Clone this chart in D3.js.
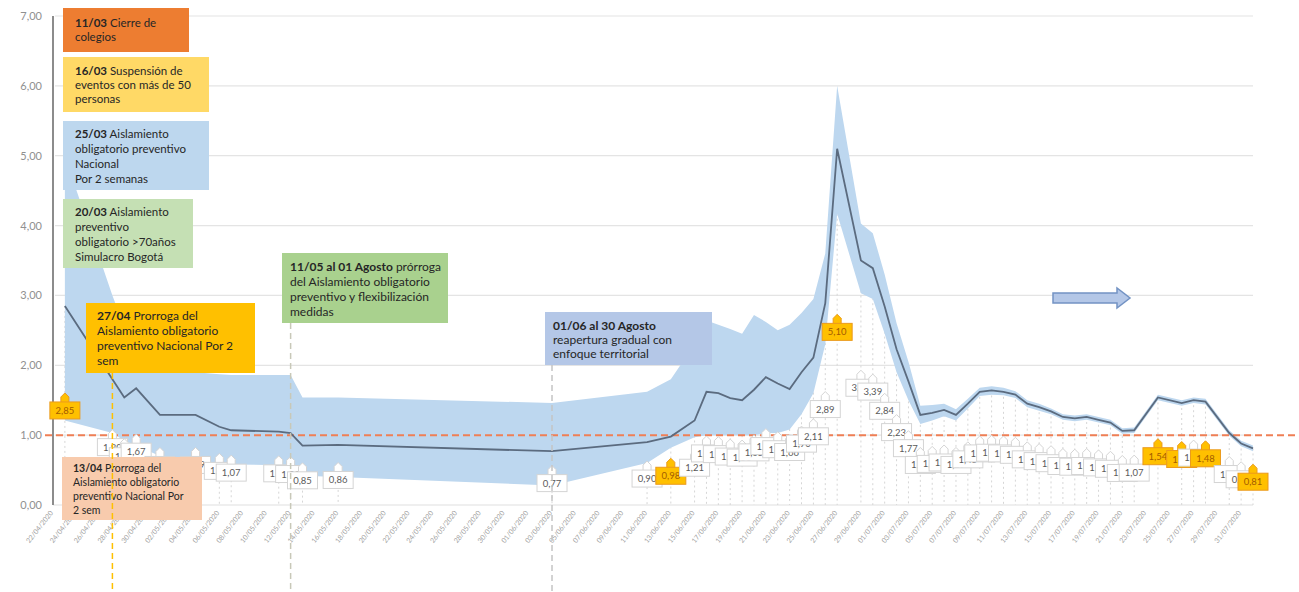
<!DOCTYPE html>
<html><head><meta charset="utf-8">
<script src="https://cdn.jsdelivr.net/npm/d3@7"></script>
<style>
body{margin:0;background:#fff}
svg{display:block}
text{font-family:Lato,"Open Sans","Liberation Sans",sans-serif}
</style>
</head><body>
<svg id="c" width="1299" height="592"></svg>
<script>
// ---------------- DATA ----------------
const dates = ["23/04/2020","27/04/2020","28/04/2020","29/04/2020","01/05/2020","04/05/2020","06/05/2020","07/05/2020",
"11/05/2020","12/05/2020","13/05/2020","16/05/2020","03/06/2020","11/06/2020","13/06/2020","15/06/2020",
"16/06/2020","17/06/2020","18/06/2020","19/06/2020","20/06/2020","21/06/2020","22/06/2020","23/06/2020",
"24/06/2020","25/06/2020","26/06/2020","27/06/2020","29/06/2020","30/06/2020","01/07/2020","02/07/2020",
"03/07/2020","04/07/2020","05/07/2020","06/07/2020","07/07/2020","08/07/2020","09/07/2020","10/07/2020",
"11/07/2020","12/07/2020","13/07/2020","14/07/2020","15/07/2020","16/07/2020","17/07/2020","18/07/2020",
"19/07/2020","20/07/2020","21/07/2020","22/07/2020","24/07/2020","26/07/2020","27/07/2020",
"28/07/2020","30/07/2020","31/07/2020","01/08/2020"];
const rt = [2.85,1.80,1.54,1.67,1.29,1.29,1.12,1.07,
1.05,1.03,0.85,0.86,0.77,0.90,0.98,1.21,
1.62,1.60,1.53,1.50,1.65,1.83,1.74,1.66,
1.90,2.11,2.89,5.10,3.50,3.39,2.84,2.23,
1.77,1.29,1.32,1.36,1.29,1.45,1.62,1.64,
1.62,1.58,1.45,1.40,1.34,1.26,1.24,1.26,
1.22,1.18,1.06,1.07,1.54,1.46,1.50,
1.48,1.03,0.88,0.81];
const lower = [1.21,1.03,0.92,0.85,0.70,0.62,0.59,0.58,
0.57,0.55,0.42,0.40,0.28,0.60,0.82,0.97,
1.00,1.00,1.00,1.00,1.00,1.03,1.03,1.08,
1.30,1.60,2.30,4.17,3.03,2.95,2.45,1.90,
1.50,1.16,1.21,1.27,1.21,1.38,1.56,1.58,
1.57,1.53,1.40,1.35,1.30,1.22,1.20,1.22,
1.18,1.14,1.02,1.03,1.50,1.42,1.46,
1.44,0.99,0.84,0.77];
const upper = [4.99,3.00,2.55,2.20,1.98,1.90,1.87,1.86,
1.86,1.86,1.54,1.54,1.46,1.62,1.80,2.30,
2.64,2.58,2.52,2.45,2.72,2.62,2.50,2.58,
2.75,2.95,3.60,6.00,4.03,3.89,3.30,2.60,
2.05,1.42,1.43,1.45,1.37,1.52,1.68,1.70,
1.68,1.63,1.50,1.45,1.38,1.30,1.28,1.30,
1.26,1.22,1.10,1.11,1.58,1.50,1.54,
1.52,1.07,0.92,0.85];
const highlighted = ["23/04/2020","13/06/2020","27/06/2020","24/07/2020","26/07/2020","28/07/2020","01/08/2020"];
const yTicks = [0,1,2,3,4,5,6,7];
const xAxisFirst = "22/04/2020";
const xAxisLast = "31/07/2020";
const xTickStepDays = 2;
const threshold = 1;
const eventDates = ["27/04/2020","12/05/2020","03/06/2020"];
const notes = [
  [["11/03"," Cierre de"],["","colegios"]],
  [["16/03"," Suspensión de"],["","eventos con más de 50"],["","personas"]],
  [["25/03"," Aislamiento"],["","obligatorio preventivo"],["","Nacional"],["","Por 2 semanas"]],
  [["20/03"," Aislamiento"],["","preventivo"],["","obligatorio  >70años"],["","Simulacro Bogotá"]],
  [["27/04"," Prorroga del"],["","Aislamiento obligatorio"],["","preventivo Nacional Por 2"],["","sem"]],
  [["13/04"," Prorroga del"],["","Aislamiento obligatorio"],["","preventivo  Nacional  Por"],["","2 sem"]],
  [["11/05 al 01 Agosto"," prórroga"],["","del Aislamiento obligatorio"],["","preventivo y flexibilización"],["","medidas"]],
  [["01/06 al 30 Agosto",""],["","reapertura gradual con"],["","enfoque territorial"]]
];

// ---------------- LAYOUT ----------------
const svg = d3.select("#c");
const parse = d3.timeParse("%d/%m/%Y");
const fmtTick = d3.timeFormat("%d/%m/%Y");
const D0 = parse(xAxisFirst), D1 = parse(xAxisLast);
const x = d3.scaleTime().domain([D0, d3.timeDay.offset(D1, 1)]).range([53, 1253]);
const y = d3.scaleLinear().domain([0, 7]).range([505, 16]);
const pts = dates.map((d, i) => ({date: parse(d), key: d, v: rt[i], lo: lower[i], hi: upper[i]}));
const xRight = x(pts[pts.length - 1].date);
const comma = v => d3.format(".2f")(v).replace(".", ",");

// gridlines
svg.append("g").selectAll("line").data(yTicks.slice(1)).join("line")
  .attr("x1", 55).attr("x2", xRight).attr("y1", d => y(d)).attr("y2", d => y(d))
  .attr("stroke", "#e4e4e4").attr("stroke-width", 1.2);
svg.append("line").attr("x1", 53).attr("x2", xRight).attr("y1", y(0)).attr("y2", y(0))
  .attr("stroke", "#e0e0e0").attr("stroke-width", 1.2);

// drop lines
svg.append("g").selectAll("line").data(pts).join("line")
  .attr("x1", d => x(d.date)).attr("x2", d => x(d.date))
  .attr("y1", d => y(d.v)).attr("y2", y(0))
  .attr("stroke", "#d6d6d6").attr("stroke-dasharray", "2,3").attr("stroke-width", 1);

// confidence band
svg.append("path").datum(pts)
  .attr("d", d3.area().x(d => x(d.date)).y0(d => y(d.lo)).y1(d => y(d.hi)))
  .attr("fill", "#bdd7ef");

// y axis
const yAxis = svg.append("g").attr("transform", "translate(53,0)")
  .call(d3.axisLeft(y).tickValues(yTicks).tickSize(0).tickPadding(11).tickFormat(comma));
yAxis.select(".domain").remove();
yAxis.selectAll("text").attr("fill", "#909090").attr("font-size", 11);
svg.append("line").attr("x1", 53).attr("x2", 53).attr("y1", y(7)).attr("y2", y(0))
  .attr("stroke", "#8c8c8c").attr("stroke-width", 2);

// x axis
const xTicks = d3.timeDay.range(D0, d3.timeDay.offset(D1, 1), xTickStepDays);
const xAxis = svg.append("g").attr("transform", `translate(0,${y(0)})`)
  .call(d3.axisBottom(x).tickValues(xTicks).tickSize(0).tickPadding(0).tickFormat(fmtTick));
xAxis.select(".domain").remove();
xAxis.selectAll("text").attr("fill", "#a0a0a0").attr("font-size", 7)
  .attr("text-anchor", "end").attr("dy", 0)
  .attr("transform", "translate(0,8) rotate(-52)");

// threshold line
svg.append("line").attr("x1", 45).attr("x2", 1299).attr("y1", y(threshold)).attr("y2", y(threshold))
  .attr("stroke", "#ef7f55").attr("stroke-width", 2).attr("stroke-dasharray", "7,4");

// Rt line
svg.append("path").datum(pts)
  .attr("d", d3.line().x(d => x(d.date)).y(d => y(d.v)))
  .attr("fill", "none").attr("stroke", "#5b6b7f").attr("stroke-width", 1.8);

// data callouts
const BW = 30, BH = 17;
const lab = svg.append("g");
pts.forEach(p => {
  const hl = highlighted.includes(p.key);
  const cx = x(p.date), cy = y(p.v / 2) + 5;
  const top = cy - BH / 2;
  const g = lab.append("g");
  const fill = hl ? "#ffc000" : "#ffffff", stroke = hl ? "#eb9a1c" : "#d4d4d4";
  g.append("path")
    .attr("d", `M${cx-4},${top+1} L${cx-4},${top-5} L${cx},${top-9} L${cx+4},${top-5} L${cx+4},${top+1} Z`)
    .attr("fill", fill).attr("stroke", stroke).attr("stroke-width", 1);
  g.append("rect").attr("x", cx - BW / 2).attr("y", top).attr("width", BW).attr("height", BH)
    .attr("fill", fill).attr("stroke", stroke).attr("stroke-width", 1);
  g.append("text").attr("x", cx).attr("y", cy + 3.5).attr("text-anchor", "middle")
    .attr("font-size", 9.5).attr("fill", hl ? "#a35c00" : "#5a5a5a").text(comma(p.v));
});

// annotation boxes
const boxes = [
  {x:63,y:8,w:126,h:44,fill:"#ed7d31",fs:11.5,tx:75,ty:[23,37]},
  {x:63,y:57,w:146,h:55,fill:"#ffd966",fs:11.5,tx:75,ty:[71,85,99]},
  {x:63,y:121,w:146,h:69,fill:"#bdd7ee",fs:11.5,tx:75,ty:[134,149,164,179]},
  {x:63,y:199,w:130,h:69,fill:"#c5e0b4",fs:11.5,tx:75,ty:[212,227,242,257]},
  {x:86,y:303,w:169,h:70,fill:"#ffc000",fs:12,tx:97,ty:[316,331,346,361]},
  {x:62,y:457,w:140,h:63,fill:"#f8cbad",fs:10.5,tx:73,ty:[468,482,496,510]},
  {x:282,y:253,w:166,h:70,fill:"#a9d18e",fs:12,tx:290,ty:[267,282,297,312]},
  {x:545,y:312,w:167,h:53,fill:"#b4c7e7",fs:12,tx:553,ty:[326,340,354]}
];
const ann = svg.append("g");
boxes.forEach((b, i) => {
  ann.append("rect").attr("x", b.x).attr("y", b.y).attr("width", b.w).attr("height", b.h).attr("fill", b.fill);
  notes[i].forEach((ln, j) => {
    const t = ann.append("text").attr("x", b.tx).attr("y", b.ty[j] + 4)
      .attr("font-size", b.fs).attr("fill", "#262626");
    if (ln[0]) t.append("tspan").attr("font-weight", "bold").text(ln[0]);
    t.append("tspan").text(ln[1]);
  });
});

// event vertical dashed lines
const evStyle = [{c:"#ffc000",y1:373},{c:"#c8c8b8",y1:323},{c:"#c4c4c4",y1:365}];
eventDates.forEach((d, i) => {
  svg.append("line").attr("x1", x(parse(d))).attr("x2", x(parse(d)))
    .attr("y1", evStyle[i].y1).attr("y2", 592)
    .attr("stroke", evStyle[i].c).attr("stroke-width", 1.5).attr("stroke-dasharray", "6,4");
});

// block arrow
svg.append("path")
  .attr("d", "M1053,293 L1117,293 L1117,288 L1130,298 L1117,308 L1117,303 L1053,303 Z")
  .attr("fill", "#b4c7e7").attr("stroke", "#7393c4").attr("stroke-width", 1.5);
</script>
</body></html>
